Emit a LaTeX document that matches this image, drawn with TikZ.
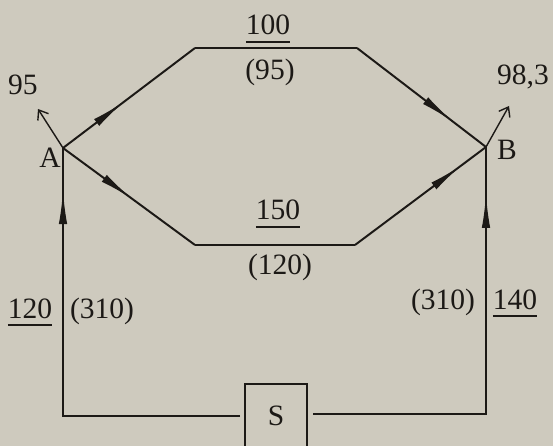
\documentclass[tikz,border=0pt]{standalone}
\usepackage{fontspec}
\setmainfont{Liberation Serif}
\usetikzlibrary{arrows.meta,decorations.markings}
\definecolor{paper}{RGB}{206,202,190}
\definecolor{ink}{RGB}{28,25,22}
\newcommand{\ulnum}[1]{\setbox0\hbox{#1}\vtop{\copy0\kern4pt\hrule height 1.8pt}}
\tikzset{
  pipe/.style={draw=ink, line width=1.4pt},
  lbl/.style={anchor=base, inner sep=0pt, text=ink, font=\fontsize{21}{23}\selectfont},
  flow/.style={postaction={decorate}, decoration={markings,
    mark=at position #1 with {\arrow[ink]{Latex[length=24pt,width=6pt]}}}},
  outlet/.style={draw=ink, line width=1pt, -{Straight Barb[length=6pt,width=9pt]}}
}
\begin{document}
\begin{tikzpicture}[x=0.025cm,y=-0.025cm]
\fill[paper] (0,0) rectangle (553,446);
\useasboundingbox (0,0) rectangle (553,446);

% junctions and corners of the ring
\coordinate (A) at (63,148);
\coordinate (B) at (486,147);
\coordinate (ul) at (195,48);
\coordinate (ur) at (357,48);
\coordinate (ll) at (195,245);
\coordinate (lr) at (355,245);
\coordinate (outA) at (38,109);
\coordinate (outB) at (509,106);
\coordinate (Sl) at (240,416);
\coordinate (Sr) at (313,414);

% source
\node[lbl] (S) at (276,425) {S};
\draw[pipe] (245,446) |- (307,384) -- (307,446);

% pipes
\draw[pipe, flow=0.46] (A) -- (ul);
\draw[pipe] (ul) -- (ur);
\draw[pipe, flow=0.74] (ur) -- (B);
\draw[pipe, flow=0.52] (A) -- (ll);
\draw[pipe] (ll) -- (lr);
\draw[pipe, flow=0.81] (lr) -- (B);
\draw[pipe, flow=0.905] (Sl) -| (A);
\draw[pipe, flow=0.893] (Sr) -| (B);
\draw[outlet] (A) -- (outA);
\draw[outlet] (B) -- (outB);

% labels
\node[lbl] (labA) at (50,168) {A};
\node[lbl] (labB) at (507,160) {B};
\node[lbl] (qA) at (23,95) {95};
\node[lbl] (qB) at (523,85) {98,3};
\node[lbl] (top) at (268,35) {\ulnum{100}};
\node[lbl] (topq) at (270,80) {(95)};
\node[lbl] (bot) at (278,220) {\ulnum{150}};
\node[lbl] (botq) at (280,274) {(120)};
\node[lbl] (lft) at (30,318) {\ulnum{120}};
\node[lbl] (lftq) at (102,318) {(310)};
\node[lbl] (rgtq) at (443,309) {(310)};
\node[lbl] (rgt) at (515,309) {\ulnum{140}};
\end{tikzpicture}
\end{document}
